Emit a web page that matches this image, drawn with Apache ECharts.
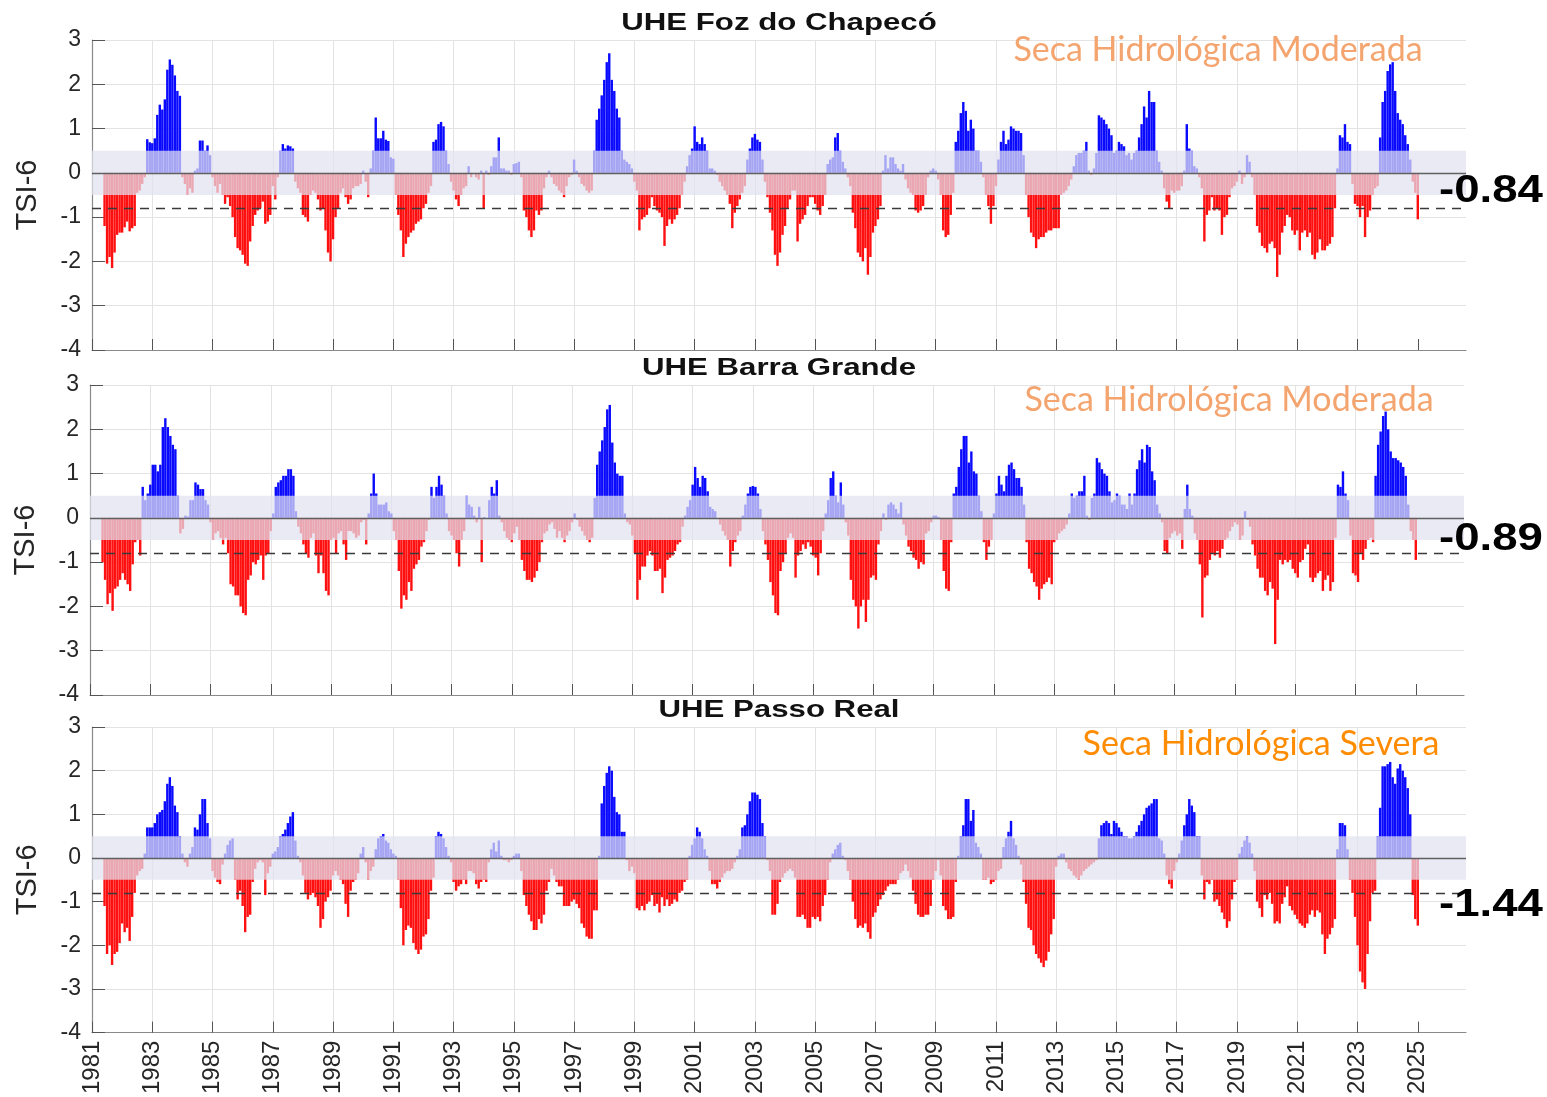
<!DOCTYPE html>
<html><head><meta charset="utf-8">
<script src="https://cdn.jsdelivr.net/npm/echarts@6/dist/echarts.min.js"></script>
<style>html,body{margin:0;padding:0;background:#fff}#c{width:1547px;height:1097px}</style>
</head><body><div id="c"></div>
<script>
// ---------------- DATA ----------------
const startYear = 1981;
const firstMonthIndex = 5; // first value = June 1981; each row below = one calendar year
const fozChapeco = [
 [-1.2,-2.05,-1.9,-2.15,-1.8,-1.4,-1.35],
 [-1.35,-1.23,-1.1,-1.32,-1.25,-1.2,-0.45,-0.4,-0.25,-0.1,0.76,0.69],
 [0.67,0.78,1.31,1.54,1.43,1.66,2.33,2.56,2.44,2.2,1.85,1.74],
 [-0.1,-0.25,-0.5,-0.35,-0.45,0.05,0.1,0.73,0.73,0.5,0.62,0.4],
 [-0.1,-0.3,-0.45,-0.25,-0.5,-0.7,-0.55,-0.75,-1.0,-1.45,-1.7,-1.75],
 [-1.85,-2.05,-2.1,-1.55,-1.2,-0.95,-0.85,-0.8,-0.65,-1.15,-1.1,-0.95],
 [-0.3,-0.6,-0.1,0.5,0.65,0.55,0.62,0.6,0.55,-0.2,-0.35,-0.45],
 [-0.95,-1.0,-1.1,-0.5,-0.4,-0.45,-0.6,-0.85,-0.8,-1.3,-1.8,-2.0],
 [-1.5,-1.0,-0.8,-0.45,-0.35,-0.55,-0.7,-0.6,-0.35,-0.3,-0.3,-0.25],
 [0.05,-0.2,-0.55,0.1,0.5,1.25,0.78,0.78,0.95,0.75,0.72,0.35],
 [0.32,-0.5,-0.95,-1.3,-1.9,-1.6,-1.45,-1.35,-1.3,-1.15,-1.1,-1.05],
 [-0.8,-0.7,-0.45,-0.3,0.7,0.75,1.1,1.15,1.05,0.5,0.2,-0.2],
 [-0.4,-0.6,-0.75,-0.5,-0.35,-0.3,0.15,-0.1,0.0,-0.1,-0.15,0.05],
 [-0.8,0.05,-0.05,0.15,0.35,0.35,0.8,0.1,0.1,0.05,0.05,-0.05],
 [0.2,0.22,0.25,-0.1,-0.85,-1.0,-1.3,-1.45,-1.3,-0.85,-0.95,-0.85],
 [-0.35,-0.1,0.05,-0.1,-0.25,-0.3,-0.4,-0.45,-0.55,-0.3,-0.1,-0.05],
 [0.3,0.05,-0.1,-0.25,-0.3,-0.4,-0.45,-0.4,0.5,1.2,1.45,1.75],
 [2.1,2.5,2.7,2.1,1.85,1.45,1.25,0.5,0.3,0.25,0.2,0.1],
 [-0.2,-0.4,-1.3,-1.05,-1.0,-0.95,-0.8,-0.55,-0.75,-0.85,-0.9,-1.0],
 [-1.65,-1.2,-1.05,-1.15,-1.05,-0.95,-0.8,-0.5,-0.2,0.15,0.4,0.55],
 [1.05,0.7,0.65,0.8,0.65,0.5,0.1,0.1,0.05,-0.05,-0.2,-0.3],
 [-0.4,-0.5,-0.7,-1.25,-0.9,-0.75,-0.6,-0.45,-0.3,0.3,0.55,0.8],
 [0.88,0.75,0.7,0.3,-0.2,-0.55,-0.9,-1.3,-1.85,-2.1,-1.8,-1.4],
 [-1.2,-0.8,-0.6,-0.4,-0.4,-1.55,-1.15,-1.05,-0.95,-0.75,-0.55,-0.55],
 [-0.7,-0.85,-0.95,-0.75,-0.5,0.2,0.3,0.35,0.8,0.9,0.5,0.25],
 [0.1,-0.1,-0.3,-0.9,-1.25,-1.8,-1.9,-2.0,-1.7,-2.3,-1.9,-1.35],
 [-1.2,-1.05,-0.75,0.05,0.4,0.1,0.35,0.35,0.2,0.1,0.05,0.2],
 [-0.15,-0.35,-0.45,-0.5,-0.85,-0.9,-0.85,-0.75,-0.5,-0.1,0.05,0.1],
 [0.05,-0.15,-0.5,-1.3,-1.45,-1.4,-0.95,-0.45,0.7,0.95,1.35,1.6],
 [1.4,0.95,1.2,1.0,0.5,0.5,0.25,-0.1,-0.5,-0.75,-1.15,-0.75],
 [-0.3,0.3,0.7,0.95,0.65,0.75,1.05,1.0,0.95,0.95,0.9,0.4],
 [-0.5,-1.0,-1.35,-1.45,-1.7,-1.5,-1.45,-1.45,-1.35,-1.3,-1.3,-1.25],
 [-1.25,-1.25,-0.5,-0.45,-0.4,-0.3,-0.15,0.15,0.4,0.45,0.45,0.5],
 [0.7,0.05,-0.05,0.1,0.45,1.3,1.25,1.2,1.1,1.0,0.85,0.45],
 [0.5,0.7,0.65,0.6,0.4,0.45,0.3,0.45,0.5,0.8,1.1,1.5],
 [1.25,1.85,1.6,1.6,0.5,0.25,0.05,-0.35,-0.65,-0.8,-0.4,-0.45],
 [-0.4,-0.4,-0.3,0.05,1.1,0.55,0.5,0.15,0.1,-0.1,-0.35,-1.55],
 [-0.95,-0.85,-0.55,-0.85,-0.8,-0.85,-1.4,-1.0,-0.95,-0.55,-0.35,-0.3],
 [-0.2,0.05,-0.25,-0.1,0.4,0.25,-0.1,-0.5,-1.2,-1.35,-1.65,-1.7],
 [-1.8,-1.6,-1.55,-1.7,-2.35,-1.85,-1.35,-1.2,-0.95,-1.0,-1.3,-1.4],
 [-1.3,-1.75,-1.35,-1.3,-1.45,-1.35,-1.85,-1.95,-1.8,-1.5,-1.75,-1.75],
 [-1.65,-1.6,-1.45,-0.8,0.1,0.85,0.8,1.1,0.7,0.65,-0.25,-0.7],
 [-0.75,-1.0,-0.75,-1.45,-1.0,-0.85,-0.5,-0.35,-0.3,0.8,1.6,1.85],
 [2.3,2.45,2.5,1.85,1.35,1.2,1.1,0.85,0.65,0.3,-0.2,-0.45],
 [-1.05]
];
const barraGrande = [
 [-1.0,-1.4,-1.95,-1.7,-2.1,-1.6,-1.55],
 [-1.4,-1.25,-1.4,-1.5,-1.65,-1.05,-0.55,-0.5,-0.85,0.7,0.4,0.55],
 [0.75,1.2,1.2,1.05,1.2,2.05,2.25,2.05,1.85,1.65,1.55,0.5],
 [-0.35,-0.25,0.05,0.03,0.4,0.4,0.8,0.75,0.65,0.65,0.4,0.3],
 [-0.1,-0.5,-0.35,-0.3,-0.45,-0.6,-0.45,-0.8,-1.5,-1.55,-1.75,-1.75],
 [-2.0,-2.15,-2.2,-1.4,-1.3,-1.0,-1.05,-0.95,-0.85,-1.4,-0.85,-0.8],
 [-0.3,0.1,0.7,0.8,0.85,0.95,0.95,1.1,1.1,0.95,0.15,-0.2],
 [-0.35,-0.6,-0.8,-0.9,-0.45,-0.35,-0.85,-1.25,-0.85,-1.25,-1.65,-1.75],
 [-0.5,-0.45,-0.8,-0.35,-0.3,-0.6,-0.95,-0.3,-0.3,-0.35,-0.45,-0.4],
 [-0.1,-0.05,-0.6,0.1,0.55,1.0,0.55,0.3,0.3,0.3,0.35,0.15],
 [0.1,-0.3,-0.5,-1.2,-2.05,-1.75,-1.85,-1.45,-1.65,-1.15,-1.05,-0.95],
 [-0.65,-0.55,-0.3,-0.05,0.7,0.45,0.7,0.95,0.75,0.5,0.1,-0.3],
 [-0.4,-0.5,-0.8,-1.1,-0.5,-0.3,0.5,0.3,0.25,0.05,-0.1,0.25],
 [-1.0,0.02,0.0,0.4,0.7,0.55,0.85,0.05,-0.1,-0.3,-0.45,-0.5],
 [-0.55,-0.35,-0.2,-0.5,-0.95,-1.2,-1.4,-1.4,-1.45,-1.35,-1.2,-1.0],
 [-0.55,-0.35,-0.3,-0.15,-0.1,-0.25,-0.45,-0.3,-0.45,-0.55,-0.4,-0.3],
 [-0.1,0.1,-0.05,-0.2,-0.3,-0.4,-0.5,-0.55,-0.45,0.45,1.2,1.5],
 [1.75,2.05,2.45,2.55,1.7,1.25,1.0,0.95,0.95,0.1,-0.1,-0.15],
 [-0.4,-0.8,-1.85,-1.4,-1.1,-1.1,-0.85,-0.75,-0.85,-1.2,-1.2,-1.15],
 [-1.7,-1.35,-0.95,-0.9,-0.85,-0.75,-0.6,-0.55,-0.2,0.05,0.25,0.4],
 [0.75,1.15,0.9,0.7,0.95,0.9,0.6,0.25,0.2,0.15,0.0,-0.15],
 [-0.3,-0.4,-0.5,-1.1,-0.75,-0.55,-0.4,-0.3,0.05,0.3,0.55,0.7],
 [0.72,0.7,0.55,0.2,-0.3,-0.6,-0.95,-1.45,-1.75,-2.15,-2.2,-1.2],
 [-1.0,-0.8,-0.45,-0.35,-0.45,-1.35,-0.85,-0.75,-0.6,-0.7,-0.55,-0.65],
 [-0.85,-0.9,-1.3,-0.8,-0.3,0.1,0.4,0.9,1.05,0.5,0.35,0.8],
 [0.3,-0.1,-0.4,-1.4,-1.85,-2.0,-2.5,-2.0,-1.85,-2.35,-1.85,-1.35],
 [-1.3,-1.4,-0.6,-0.3,0.1,-0.05,0.3,0.35,0.3,0.2,0.1,0.35],
 [-0.15,-0.4,-0.65,-0.75,-0.9,-0.95,-1.15,-1.0,-1.05,-0.35,-0.3,-0.1],
 [0.05,0.05,0.02,-0.5,-1.2,-1.6,-1.65,-0.55,0.55,0.7,1.15,1.55],
 [1.85,1.85,1.25,1.5,1.05,1.0,0.5,0.15,-0.55,-0.95,-0.65,-0.5],
 [0.1,0.55,0.95,0.75,0.6,0.95,1.2,1.25,1.1,0.9,0.9,0.7],
 [0.3,-0.55,-1.15,-1.25,-1.45,-1.55,-1.85,-1.6,-1.5,-1.45,-1.35,-1.5],
 [-0.55,-0.5,-0.35,-0.3,-0.25,-0.15,0.1,0.55,0.45,0.5,0.6,0.6],
 [0.95,0.05,-0.05,0.45,0.55,1.35,1.25,1.1,1.0,0.95,0.6,0.35],
 [0.4,0.55,0.5,0.3,0.3,0.2,0.55,0.3,0.55,1.1,1.3,1.55],
 [1.25,1.65,1.6,1.05,0.85,0.3,0.1,-0.1,-0.75,-0.8,-0.45,-0.35],
 [-0.3,-0.4,-0.35,-0.7,0.2,0.75,0.2,0.05,-0.35,-0.5,-1.05,-2.25],
 [-1.35,-1.3,-0.95,-0.8,-0.85,-0.75,-0.9,-0.7,-0.5,-0.45,-0.3,-0.2],
 [-0.1,-0.15,-0.5,-0.4,0.15,-0.05,-0.2,-0.6,-0.85,-1.15,-1.35,-1.35],
 [-1.65,-1.75,-1.45,-1.6,-2.85,-1.85,-0.95,-1.05,-0.95,-1.0,-0.95,-1.15],
 [-1.25,-1.35,-1.0,-0.95,-0.7,-0.6,-1.35,-1.45,-1.35,-1.25,-1.2,-1.65],
 [-1.4,-1.3,-1.65,-1.45,-0.45,0.75,0.7,1.05,0.55,0.4,-0.4,-1.25],
 [-1.3,-1.45,-0.8,-0.95,-0.7,-0.5,-0.45,-0.55,0.95,1.65,1.95,2.3],
 [2.4,2.0,1.5,1.35,1.35,1.3,1.25,1.15,0.95,0.3,-0.3,-0.5],
 [-0.95]
];
const passoReal = [
 [-1.1,-2.2,-2.0,-2.45,-2.2,-2.15,-1.95],
 [-1.5,-1.7,-1.6,-1.9,-1.35,-0.8,-0.4,-0.3,-0.25,0.1,0.7,0.7],
 [0.7,0.8,1.0,1.05,1.1,1.3,1.7,1.85,1.65,1.2,1.05,0.5],
 [0.1,-0.1,-0.2,0.1,0.25,0.7,0.65,1.0,1.35,1.35,0.8,0.45],
 [-0.3,-0.45,-0.55,-0.6,-0.15,0.1,0.3,0.4,0.45,-0.5,-0.95,-0.75],
 [-1.1,-1.7,-1.35,-1.3,-0.55,-0.25,-0.1,-0.05,-0.1,-0.85,-0.35,-0.2],
 [0.1,0.15,0.25,0.5,0.55,0.65,0.8,0.95,1.05,0.4,0.05,-0.1],
 [-0.4,-0.8,-0.95,-0.85,-0.8,-0.9,-1.1,-1.6,-1.4,-1.0,-0.9,-0.75],
 [-0.4,-0.3,-0.4,-0.5,-0.6,-1.05,-1.35,-0.75,-0.55,-0.5,-0.35,0.1],
 [0.25,-0.1,-0.5,-0.3,-0.2,0.2,0.45,0.5,0.55,0.4,0.35,0.2],
 [0.1,0.05,-0.5,-1.15,-2.0,-1.65,-1.55,-1.6,-1.95,-2.1,-2.2,-2.1],
 [-1.8,-1.75,-1.4,-0.75,-0.45,0.5,0.6,0.55,0.45,0.25,0.05,-0.1],
 [-0.55,-0.75,-0.65,-0.6,-0.5,-0.6,-0.3,-0.3,-0.35,-0.6,-0.7,-0.55],
 [-0.5,-0.55,-0.1,0.2,0.35,0.15,0.4,0.05,-0.05,-0.05,-0.1,-0.05],
 [0.05,0.1,0.1,-0.3,-0.85,-1.1,-1.3,-1.45,-1.65,-1.65,-1.4,-1.5],
 [-1.3,-0.75,-0.55,-0.25,-0.4,-0.55,-0.65,-0.65,-1.1,-1.1,-1.1,-1.0],
 [-0.95,-1.05,-1.15,-1.5,-1.6,-1.8,-1.85,-1.85,-1.2,-1.2,0.05,1.25],
 [1.65,1.95,2.1,2.0,1.4,1.05,1.0,0.6,0.6,-0.05,-0.3,-0.2],
 [-0.35,-1.15,-1.2,-1.1,-1.2,-1.05,-1.0,-0.85,-1.1,-1.05,-1.25,-0.9],
 [-1.1,-0.95,-1.1,-1.05,-0.95,-1.0,-0.8,-0.75,-0.55,-0.5,0.05,0.3],
 [0.45,0.7,0.6,0.45,0.2,0.05,-0.3,-0.6,-0.6,-0.7,-0.55,-0.45],
 [-0.35,-0.3,-0.3,-0.25,-0.1,0.05,0.2,0.7,0.75,1.0,1.3,1.5],
 [1.5,1.45,1.35,0.8,0.5,-0.05,-0.3,-1.3,-1.3,-1.05,-0.55,-0.45],
 [-0.35,-0.3,-0.25,-0.3,-0.45,-1.35,-1.35,-1.3,-1.4,-1.6,-1.6,-1.35],
 [-1.4,-1.35,-1.45,-1.1,-0.85,-0.5,-0.1,0.1,0.2,0.3,0.35,0.05],
 [-0.05,-0.3,-0.5,-1.0,-1.4,-1.6,-1.55,-1.6,-1.5,-1.7,-1.85,-1.35],
 [-1.25,-1.1,-0.95,-0.85,-0.75,-0.65,-0.6,-0.6,-0.6,-0.5,-0.35,-0.3],
 [-0.15,-0.3,-0.45,-0.75,-1.05,-1.3,-1.35,-1.35,-1.3,-1.3,-1.1,-0.5],
 [-0.3,-0.05,-0.4,-1.1,-1.2,-1.4,-1.4,-1.35,-0.55,0.05,0.5,0.75],
 [1.35,1.35,0.85,1.1,0.35,0.25,0.1,-0.5,-0.5,-0.45,-0.6,-0.55],
 [-0.5,-0.3,-0.25,0.25,0.45,0.6,0.85,0.45,0.3,0.05,-0.15,-0.55],
 [-1.05,-1.6,-1.65,-2.0,-2.2,-2.3,-2.4,-2.5,-2.35,-2.15,-1.75,-1.4],
 [-0.2,0.05,0.1,0.1,-0.1,-0.25,-0.3,-0.4,-0.45,-0.5,-0.4,-0.3],
 [-0.25,-0.2,-0.15,-0.1,-0.05,0.45,0.75,0.8,0.85,0.8,0.55,0.85],
 [0.8,0.7,0.6,0.5,0.5,0.45,0.45,0.5,0.6,0.75,0.85,1.0],
 [1.15,1.2,1.25,1.35,1.35,0.45,0.4,0.1,-0.4,-0.6,-0.7,-0.3],
 [-0.1,0.1,0.4,0.75,1.0,1.35,1.2,1.05,0.5,0.5,-0.4,-0.95],
 [-0.55,-0.6,-0.5,-1.0,-0.95,-1.1,-1.25,-1.4,-1.6,-1.45,-0.95,-0.55],
 [-0.5,0.1,0.25,0.4,0.5,0.35,0.1,-0.3,-1.0,-1.15,-1.35,-0.85],
 [-0.95,-0.8,-1.05,-1.5,-1.45,-1.5,-1.05,-0.9,-0.65,-1.1,-1.2,-1.3],
 [-1.4,-1.5,-1.55,-1.6,-1.5,-1.3,-1.2,-1.35,-1.2,-1.25,-1.75,-2.2],
 [-1.85,-1.75,-1.6,-1.4,0.2,0.8,0.8,0.75,0.2,-0.5,-0.8,-1.35],
 [-2.0,-2.6,-2.85,-3.0,-2.2,-1.45,-0.8,-0.75,0.5,1.15,2.1,2.1],
 [2.15,2.2,1.85,1.7,2.05,2.15,2.0,1.85,1.6,1.0,-0.85,-1.4],
 [-1.55]
];
const panelTitles = ['UHE Foz do Chapecó', 'UHE Barra Grande', 'UHE Passo Real'];
const droughtLabels = ['Seca Hidrológica Moderada', 'Seca Hidrológica Moderada', 'Seca Hidrológica Severa'];
const lastValueLabels = ['-0.84', '-0.89', '-1.44'];
const yAxisName = 'TSI-6';
const normalBand = [-0.5, 0.5];
const droughtThreshold = -0.8;
const xRange = [1981, 2026.6];
const yRange = [-4, 3];

// ---------------- LAYOUT / STYLE ----------------
const panels = [
  {data: fozChapeco,  left: 92, top: 40,  height: 310, titleY: 23,  secaX: 1218, secaY: 50,  secaColor: '#F4A46E', lastY: 192},
  {data: barraGrande, left: 90, top: 385, height: 310, titleY: 368, secaX: 1229, secaY: 400, secaColor: '#F4A46E', lastY: 540},
  {data: passoReal,   left: 92, top: 727, height: 311, titleY: 710, secaX: 1261, secaY: 744, secaColor: '#FF8C00', lastY: 906}
];
const plotWidth = 1374;
const font = 'Liberation Sans, Arial, sans-serif';
const toSeries = rows => rows.flatMap((row, r) => row.map((v, j) => {
  const m = r === 0 ? firstMonthIndex + j : r * 12 + j;
  return [startYear + m / 12, v];
}));
const tickYears = [];
for (let y = xRange[0]; y <= 2025; y += 2) tickYears.push(y);

const grids = [], xAxes = [], yAxes = [], series = [], graphics = [];
panels.forEach((p, i) => {
  grids.push({left: p.left, top: p.top, width: plotWidth, height: p.height});
  xAxes.push({
    type: 'value', gridIndex: i, min: xRange[0], max: xRange[1], interval: 2,
    axisLine: {show: true, onZero: false, lineStyle: {color: '#8a8a8a', width: 1.2}},
    axisTick: {show: true, inside: true, length: 11, customValues: tickYears, lineStyle: {color: '#555', width: 1}},
    axisLabel: {show: i === 2, rotate: 90, fontSize: 24, color: '#262626', margin: 8,
      fontFamily: font, showMaxLabel: false,
      formatter: v => (Math.abs(v - Math.round(v)) < 1e-6 ? String(Math.round(v)) : '')},
    splitLine: {show: true, showMaxLine: false, lineStyle: {color: '#e3e3e3', width: 1}}
  });
  yAxes.push({
    type: 'value', gridIndex: i, min: yRange[0], max: yRange[1], interval: 1,
    axisLine: {show: true, lineStyle: {color: '#8a8a8a', width: 1.2}},
    axisTick: {show: true, inside: true, length: 13, lineStyle: {color: '#555', width: 1}},
    axisLabel: {fontSize: 23, color: '#262626', margin: 11, fontFamily: font},
    splitLine: {show: true, lineStyle: {color: '#e3e3e3', width: 1}},
    name: yAxisName, nameLocation: 'middle', nameRotate: 90, nameGap: 50,
    nameTextStyle: {fontSize: 29, color: '#262626', fontFamily: font}
  });
  series.push({
    type: 'bar', xAxisIndex: i, yAxisIndex: i, barWidth: 2.4, z: 2,
    data: toSeries(p.data),
    itemStyle: {color: prm => prm.value[1] >= 0 ? '#0a0aff' : '#ff1010'},
    animation: false, silent: true
  });
  series.push({
    type: 'line', xAxisIndex: i, yAxisIndex: i, data: [], z: 4, silent: true, animation: false,
    markArea: {z: 3, silent: true, itemStyle: {color: 'rgba(226,226,240,0.72)'},
      data: [[{yAxis: normalBand[0]}, {yAxis: normalBand[1]}]]},
    markLine: {z: 6, silent: true, symbol: 'none', label: {show: false}, animation: false,
      data: [
        {yAxis: 0, lineStyle: {color: '#606060', width: 1.4, type: 'solid'}},
        {yAxis: droughtThreshold, lineStyle: {color: '#3a3a3a', width: 1.3, type: [9, 7]}}
      ]}
  });
  graphics.push({type: 'text', x: 779, y: p.titleY, scaleX: 1.3, z: 20,
    style: {text: panelTitles[i], fontSize: 24, fontWeight: 'bold', fontFamily: font,
      fill: '#111', textAlign: 'center', textVerticalAlign: 'middle'}});
  graphics.push({type: 'text', x: p.secaX, y: p.secaY, z: 20,
    style: {text: droughtLabels[i], fontSize: 34, fontFamily: 'Lato, "Open Sans", sans-serif',
      fill: p.secaColor, textAlign: 'center', textVerticalAlign: 'middle'}});
  graphics.push({type: 'text', x: 1491, y: p.lastY, scaleX: 1.2, z: 20,
    style: {text: lastValueLabels[i], fontSize: 38, fontWeight: 'bold', fontFamily: font,
      fill: '#000', textAlign: 'center', textVerticalAlign: 'middle'}});
});

const chart = echarts.init(document.getElementById('c'), null, {renderer: 'canvas'});
chart.setOption({
  animation: false, backgroundColor: '#fff',
  grid: grids, xAxis: xAxes, yAxis: yAxes, series: series, graphic: graphics
});
</script></body></html>
